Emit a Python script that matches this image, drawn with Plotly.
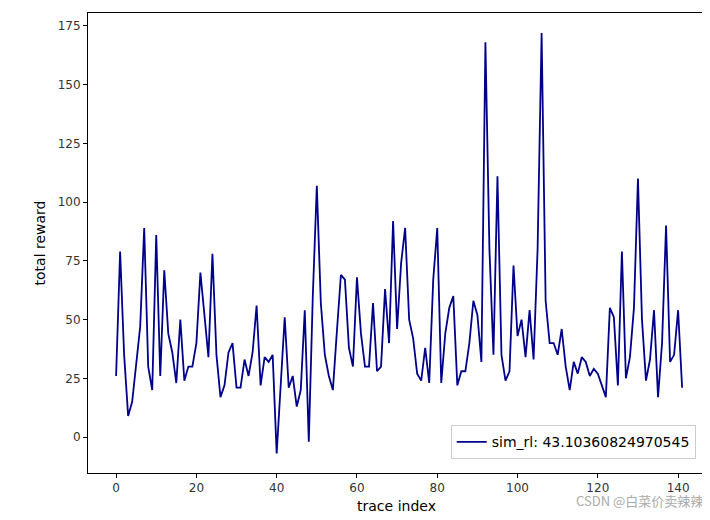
import plotly.graph_objects as go

trace_index = list(range(142))
total_reward = [26,79,35,9,15,30,47,89,30,20,86,26,71,44,36,23,50,24,30,30,
40,70,52,34,78,35,17,22,36,40,21,21,33,26,36,56,22,34,32,35,
-7,21,51,21,26,13,20,54,-2,60,107,57,35,26,20,45,69,67,38,30,
68,44,30,30,57,28,30,63,40,92,46,74,89,50,42,27,24,38,23,67,
89,23,44,55,60,22,28,28,40,58,52,32,168,80,35,111,35,24,28,73,
43,50,34,54,33,80,172,58,40,40,35,46,30,20,32,27,34,32,26,29,
27,22,17,55,51,22,79,25,34,55,110,50,24,33,54,17,40,90,32,35,54,21]
label = "sim_rl: 43.10360824970545"

fig = go.Figure(go.Scatter(x=trace_index, y=total_reward, mode="lines",
    line=dict(color="#00008b", width=1.8), name=label))
ax = dict(showline=True, mirror=True, linecolor="black", linewidth=1, ticks="outside",
          ticklen=4, tickcolor="black", showgrid=False, zeroline=False, automargin=False,
          tickfont=dict(size=12, color="#333"))
fig.update_layout(
    width=710, height=520, plot_bgcolor="white", paper_bgcolor="white",
    margin=dict(l=80, r=13, t=5, b=55, autoexpand=False),
    font=dict(family="DejaVu Sans", color="black"),
    xaxis=dict(ax, range=[-7, 146.7], tickvals=[0,20,40,60,80,100,120,140],
               title=dict(text="trace index", font=dict(size=14), standoff=6)),
    yaxis=dict(ax, range=[-15.3, 180.5], tickvals=[0,25,50,75,100,125,150,175],
               title=dict(text="total reward", font=dict(size=14), standoff=8)),
    showlegend=True,
    legend=dict(x=0.985, y=0.03, xanchor="right", yanchor="bottom",
                bordercolor="#ccc", borderwidth=1, font=dict(size=14)),
)
fig.add_annotation(text="CSDN @白菜价卖辣辣", xref="paper", yref="paper", x=1.0, y=-0.085,
                   xanchor="right", showarrow=False,
                   font=dict(size=13, color="#aaa", family="Noto Sans CJK SC"))
fig.write_html("out.html")
